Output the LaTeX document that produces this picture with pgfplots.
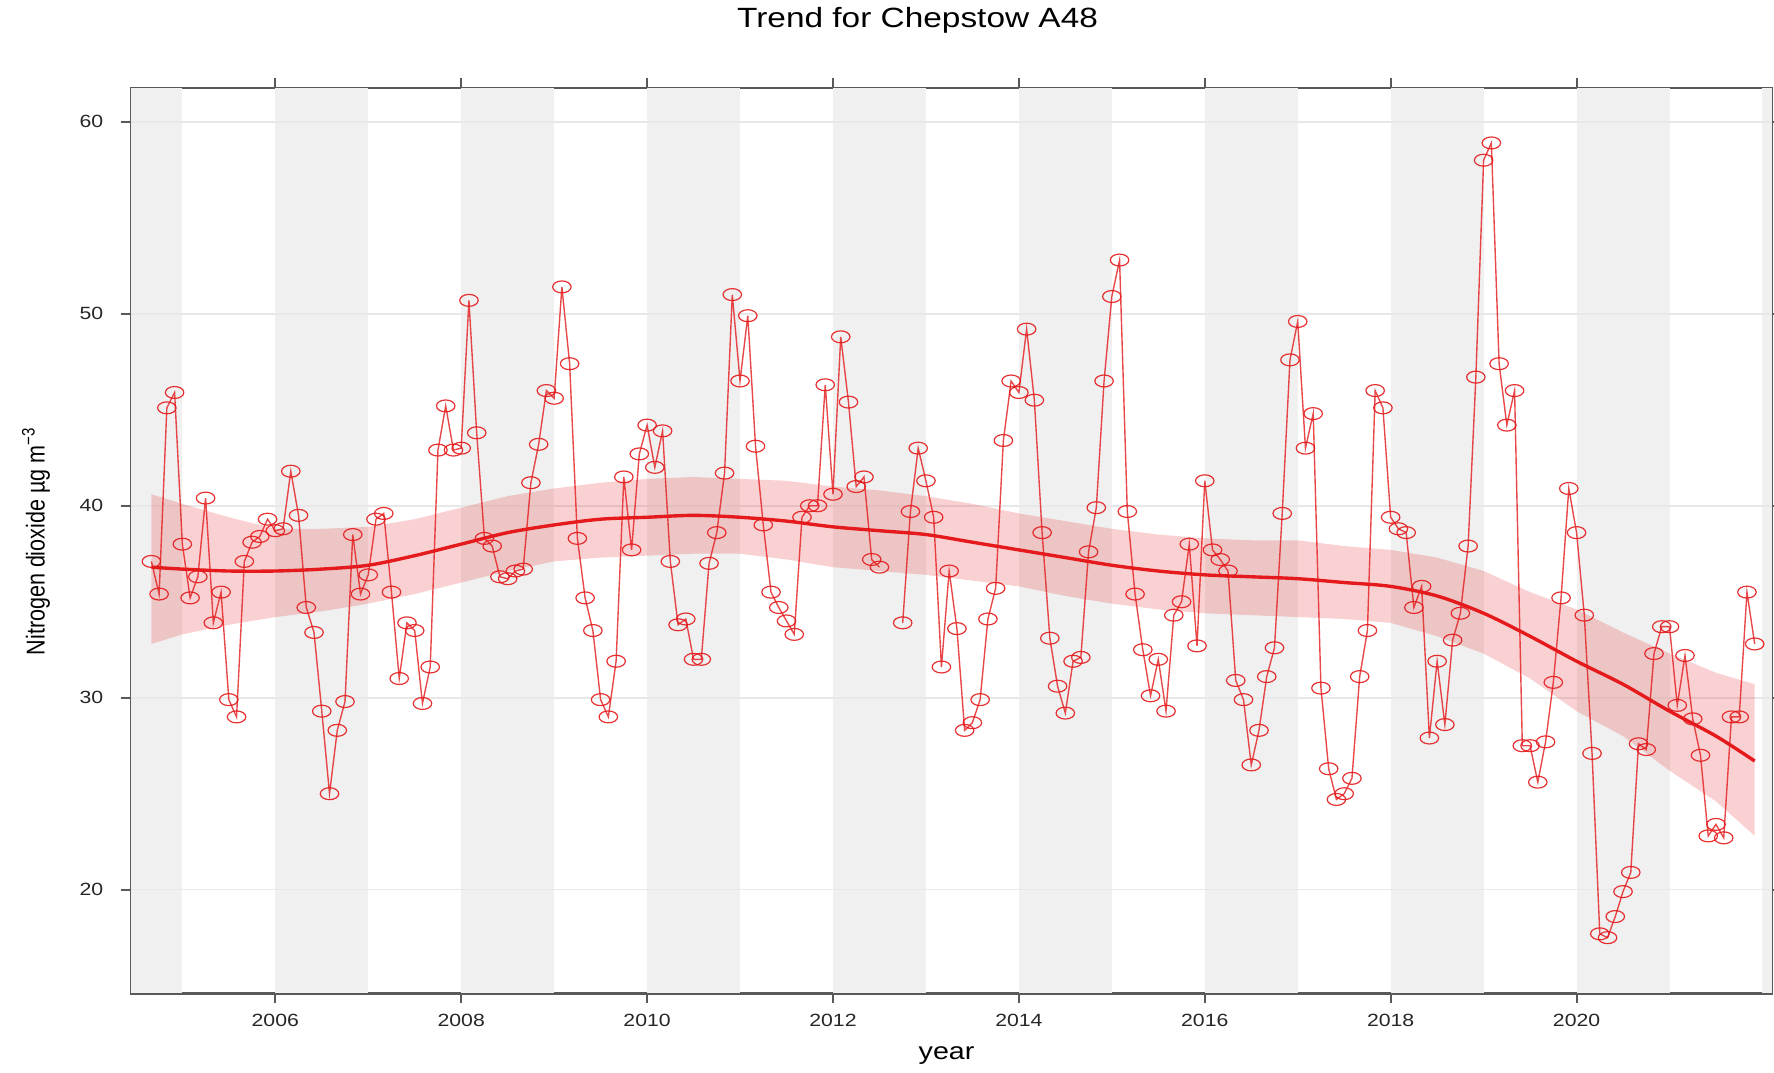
\documentclass[border=0pt]{standalone}
\usepackage{pgfplots}
\pgfplotsset{compat=1.18}
\usepackage{pgfplotstable}
\usepackage{fontspec}
\setmainfont[FakeStretch=1.2]{Liberation Sans}
\newfontfamily\ylabfont[FakeStretch=0.833]{Liberation Sans}
\definecolor{ored}{HTML}{E41A1C}
\definecolor{bandgray}{HTML}{F0F0F0}

\pgfplotstableread{
yr mo v
2004 9 37.1
2004 10 35.4
2004 11 45.1
2004 12 45.9
2005 1 38.0
2005 2 35.2
2005 3 36.3
2005 4 40.4
2005 5 33.9
2005 6 35.5
2005 7 29.9
2005 8 29.0
2005 9 37.1
2005 10 38.1
2005 11 38.4
2005 12 39.3
2006 1 38.7
2006 2 38.8
2006 3 41.8
2006 4 39.5
2006 5 34.7
2006 6 33.4
2006 7 29.3
2006 8 25.0
2006 9 28.3
2006 10 29.8
2006 11 38.5
2006 12 35.4
2007 1 36.4
2007 2 39.3
2007 3 39.6
2007 4 35.5
2007 5 31.0
2007 6 33.9
2007 7 33.5
2007 8 29.7
2007 9 31.6
2007 10 42.9
2007 11 45.2
2007 12 42.9
2008 1 43.0
2008 2 50.7
2008 3 43.8
2008 4 38.3
2008 5 37.9
2008 6 36.3
2008 7 36.2
2008 8 36.6
2008 9 36.7
2008 10 41.2
2008 11 43.2
2008 12 46.0
2009 1 45.6
2009 2 51.4
2009 3 47.4
2009 4 38.3
2009 5 35.2
2009 6 33.5
2009 7 29.9
2009 8 29.0
2009 9 31.9
2009 10 41.5
2009 11 37.7
2009 12 42.7
2010 1 44.2
2010 2 42.0
2010 3 43.9
2010 4 37.1
2010 5 33.8
2010 6 34.1
2010 7 32.0
2010 8 32.0
2010 9 37.0
2010 10 38.6
2010 11 41.7
2010 12 51.0
2011 1 46.5
2011 2 49.9
2011 3 43.1
2011 4 39.0
2011 5 35.5
2011 6 34.7
2011 7 34.0
2011 8 33.3
2011 9 39.4
2011 10 40.0
2011 11 40.0
2011 12 46.3
2012 1 40.6
2012 2 48.8
2012 3 45.4
2012 4 41.0
2012 5 41.5
2012 6 37.2
2012 7 36.8
2012 8 nan
2012 9 nan
2012 10 33.9
2012 11 39.7
2012 12 43.0
2013 1 41.3
2013 2 39.4
2013 3 31.6
2013 4 36.6
2013 5 33.6
2013 6 28.3
2013 7 28.7
2013 8 29.9
2013 9 34.1
2013 10 35.7
2013 11 43.4
2013 12 46.5
2014 1 45.9
2014 2 49.2
2014 3 45.5
2014 4 38.6
2014 5 33.1
2014 6 30.6
2014 7 29.2
2014 8 31.9
2014 9 32.1
2014 10 37.6
2014 11 39.9
2014 12 46.5
2015 1 50.9
2015 2 52.8
2015 3 39.7
2015 4 35.4
2015 5 32.5
2015 6 30.1
2015 7 32.0
2015 8 29.3
2015 9 34.3
2015 10 35.0
2015 11 38.0
2015 12 32.7
2016 1 41.3
2016 2 37.7
2016 3 37.2
2016 4 36.6
2016 5 30.9
2016 6 29.9
2016 7 26.5
2016 8 28.3
2016 9 31.1
2016 10 32.6
2016 11 39.6
2016 12 47.6
2017 1 49.6
2017 2 43.0
2017 3 44.8
2017 4 30.5
2017 5 26.3
2017 6 24.7
2017 7 25.0
2017 8 25.8
2017 9 31.1
2017 10 33.5
2017 11 46.0
2017 12 45.1
2018 1 39.4
2018 2 38.8
2018 3 38.6
2018 4 34.7
2018 5 35.8
2018 6 27.9
2018 7 31.9
2018 8 28.6
2018 9 33.0
2018 10 34.4
2018 11 37.9
2018 12 46.7
2019 1 58.0
2019 2 58.9
2019 3 47.4
2019 4 44.2
2019 5 46.0
2019 6 27.5
2019 7 27.5
2019 8 25.6
2019 9 27.7
2019 10 30.8
2019 11 35.2
2019 12 40.9
2020 1 38.6
2020 2 34.3
2020 3 27.1
2020 4 17.7
2020 5 17.5
2020 6 18.6
2020 7 19.9
2020 8 20.9
2020 9 27.6
2020 10 27.3
2020 11 32.3
2020 12 33.7
2021 1 33.7
2021 2 29.6
2021 3 32.2
2021 4 28.9
2021 5 27.0
2021 6 22.8
2021 7 23.4
2021 8 22.7
2021 9 29.0
2021 10 29.0
2021 11 35.5
2021 12 32.8
}\noxdata

\pgfplotstableread{
x m
2004.667 36.8
2005.0 36.7
2005.5 36.6
2006.0 36.6
2006.5 36.7
2007.0 36.9
2007.5 37.4
2008.0 38.0
2008.5 38.6
2009.0 39.0
2009.5 39.3
2010.0 39.4
2010.5 39.5
2011.0 39.4
2011.5 39.2
2012.0 38.9
2012.5 38.7
2013.0 38.5
2013.5 38.1
2014.0 37.7
2014.5 37.3
2015.0 36.9
2015.5 36.6
2016.0 36.4
2016.5 36.3
2017.0 36.2
2017.5 36.0
2018.0 35.8
2018.5 35.3
2019.0 34.4
2019.5 33.2
2020.0 31.9
2020.5 30.7
2021.0 29.3
2021.5 28.0
2021.917 26.7
}\trenddata

% confidence band outline: upper edge forward, lower edge backward
\pgfplotstableread{
x b
2004.667 40.6
2005.0 40.1
2005.5 39.4
2006.0 38.8
2006.5 38.8
2007.0 38.9
2007.5 39.3
2008.0 39.9
2008.5 40.5
2009.0 40.9
2009.5 41.2
2010.0 41.4
2010.5 41.5
2011.0 41.4
2011.5 41.3
2012.0 41.0
2012.5 40.8
2013.0 40.5
2013.5 40.1
2014.0 39.6
2014.5 39.2
2015.0 38.8
2015.5 38.5
2016.0 38.3
2016.5 38.2
2017.0 38.2
2017.5 37.9
2018.0 37.7
2018.5 37.3
2019.0 36.6
2019.5 35.5
2020.0 34.6
2020.5 33.4
2021.0 32.3
2021.5 31.3
2021.917 30.7
2021.917 22.8
2021.5 24.6
2021.0 26.2
2020.5 28.0
2020.0 29.3
2019.5 31.0
2019.0 32.3
2018.5 33.2
2018.0 33.9
2017.5 34.1
2017.0 34.2
2016.5 34.3
2016.0 34.4
2015.5 34.6
2015.0 34.9
2014.5 35.3
2014.0 35.8
2013.5 36.1
2013.0 36.4
2012.5 36.6
2012.0 36.8
2011.5 37.2
2011.0 37.5
2010.5 37.5
2010.0 37.4
2009.5 37.3
2009.0 37.1
2008.5 36.6
2008.0 36.0
2007.5 35.4
2007.0 34.9
2006.5 34.5
2006.0 34.2
2005.5 33.8
2005.0 33.3
2004.667 32.8
}\banddata

\begin{document}
\begin{tikzpicture}
\useasboundingbox (-1.16cm,-0.70cm) rectangle (14.52cm,8.78cm);
\begin{axis}[
  at={(0,0)}, anchor=south west,
  width=14.5cm, height=8cm, scale only axis,
  xmin=2004.45, xmax=2022.1, ymin=14.6, ymax=61.75,
  axis line style={black!65, line width=0.6pt},
  tick style={black!65, line width=0.5pt},
  tick align=outside, major tick length=2.5pt,
  xtick={2006,2008,...,2020}, ytick={20,30,40,50,60},
  minor tick num=0,
  /pgf/number format/assume math mode=true,
  xticklabel style={/pgf/number format/1000 sep={}},
  ticklabel style={font=\fontsize{4.45}{5}\selectfont, text=black!85},
  xticklabel shift=-0.8pt, yticklabel shift=1pt,
  unbounded coords=jump,
  xlabel={year},
  xlabel style={at={(axis description cs:0.497,-0.069)}, anchor=center, font=\fontsize{6}{7}\selectfont},
  ylabel={Nitrogen dioxide µg m\textsuperscript{−3}},
  ylabel style={at={(axis description cs:-0.058,0.5)}, anchor=center, font=\ylabfont\fontsize{6.5}{7}\selectfont},
]
% alternating year bands
\addplot[fill=bandgray, draw=none, forget plot] coordinates {(2004.45,14.6) (2005,14.6) (2005,61.75) (2004.45,61.75)} -- cycle;
\addplot[fill=bandgray, draw=none, forget plot] coordinates {(2006,14.6) (2007,14.6) (2007,61.75) (2006,61.75)} -- cycle;
\addplot[fill=bandgray, draw=none, forget plot] coordinates {(2008,14.6) (2009,14.6) (2009,61.75) (2008,61.75)} -- cycle;
\addplot[fill=bandgray, draw=none, forget plot] coordinates {(2010,14.6) (2011,14.6) (2011,61.75) (2010,61.75)} -- cycle;
\addplot[fill=bandgray, draw=none, forget plot] coordinates {(2012,14.6) (2013,14.6) (2013,61.75) (2012,61.75)} -- cycle;
\addplot[fill=bandgray, draw=none, forget plot] coordinates {(2014,14.6) (2015,14.6) (2015,61.75) (2014,61.75)} -- cycle;
\addplot[fill=bandgray, draw=none, forget plot] coordinates {(2016,14.6) (2017,14.6) (2017,61.75) (2016,61.75)} -- cycle;
\addplot[fill=bandgray, draw=none, forget plot] coordinates {(2018,14.6) (2019,14.6) (2019,61.75) (2018,61.75)} -- cycle;
\addplot[fill=bandgray, draw=none, forget plot] coordinates {(2020,14.6) (2021,14.6) (2021,61.75) (2020,61.75)} -- cycle;
\addplot[fill=bandgray, draw=none, forget plot] coordinates {(2022,14.6) (2022.1,14.6) (2022.1,61.75) (2022,61.75)} -- cycle;
% horizontal grid lines
\addplot[black!9, line width=0.4pt, forget plot] coordinates {(2004.45,20) (2022.1,20)};
\addplot[black!9, line width=0.4pt, forget plot] coordinates {(2004.45,30) (2022.1,30)};
\addplot[black!9, line width=0.4pt, forget plot] coordinates {(2004.45,40) (2022.1,40)};
\addplot[black!9, line width=0.4pt, forget plot] coordinates {(2004.45,50) (2022.1,50)};
\addplot[black!9, line width=0.4pt, forget plot] coordinates {(2004.45,60) (2022.1,60)};
% confidence band
\addplot[fill=ored, fill opacity=0.2, draw=none, forget plot] table[x=x, y=b]{\banddata} -- cycle;
% data
\addplot[ored, line width=0.35pt, draw opacity=0.8, mark=o,
  mark options={solid, line width=0.3pt, xscale=1.55, draw opacity=0.9}, mark size=1.5pt]
  table[x expr=\thisrow{yr}+(\thisrow{mo}-1)/12, y=v]{\noxdata};
% trend
\addplot[ored, line width=0.85pt, smooth, no marks] table[x=x, y=m]{\trenddata};
\end{axis}
\node[anchor=center, font=\fontsize{7}{8}\selectfont] at (6.95cm,8.60cm) {Trend for Chepstow A48};
\end{tikzpicture}
\end{document}
